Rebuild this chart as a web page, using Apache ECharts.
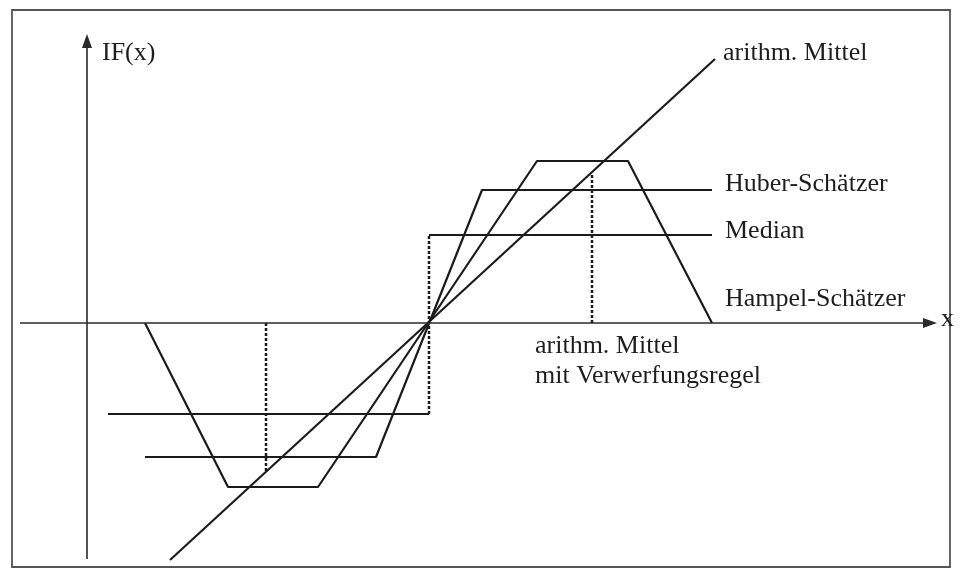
<!DOCTYPE html>
<html>
<head>
<meta charset="utf-8">
<script src="https://cdn.jsdelivr.net/npm/echarts@6/dist/echarts.min.js"></script>
<style>
html,body{margin:0;padding:0;background:#fff;}
#c{width:962px;height:569px;}
</style>
</head>
<body>
<div id="c"></div>
<script>
// Values (x and y in abstract units, origin at the crossing point)
const arithMittel   = [[-25.9, -23.7], [28.6, 26.4]];
const medianLow     = [[-32.1, -9.1], [0, -9.1]];
const medianJump    = [[0, -9.1], [0, 8.8]];
const medianHigh    = [[0, 8.8], [28.3, 8.8]];
const huber         = [[-28.4, -13.4], [-5.3, -13.4], [5.3, 13.3], [28.3, 13.3]];
const hampel        = [[-28.4, 0], [-20.1, -16.4], [-11.1, -16.4], [10.8, 16.2], [19.9, 16.2], [28.3, 0]];
const rejectRight   = [[16.3, 0], [16.3, 14.9]];
const rejectLeft    = [[-16.3, 0], [-16.3, -14.9]];
const xAxisSpan     = [[-40.9, 0], [50.1, 0]];
const yAxisSpan     = [[-34.2, -23.6], [-34.2, 28.2]];
const labels = {
  yName: 'IF(x)', xName: 'x',
  arith: 'arithm. Mittel', huber: 'Huber-Schätzer', median: 'Median', hampel: 'Hampel-Schätzer',
  reject1: 'arithm. Mittel', reject2: 'mit Verwerfungsregel'
};

const ink = '#1b1b1b';
const font = '"Liberation Serif", "DejaVu Serif", serif';
function solid(name, data) {
  return {name, type: 'line', data, symbol: 'none', silent: true,
    lineStyle: {color: ink, width: 2.2}, animation: false, z: 3};
}
function dotted(name, data) {
  return {name, type: 'line', data, symbol: 'none', silent: true,
    lineStyle: {color: ink, width: 2.5, type: [3, 2]}, animation: false, z: 2};
}
function axisArrow(name, seg) {
  return {name, type: 'line', data: [], silent: true, animation: false,
    markLine: {silent: true, animation: false, symbol: ['none', 'triangle'], symbolSize: [10, 14],
      label: {show: false},
      lineStyle: {color: '#2a2a2a', width: 1.6, type: 'solid'},
      data: [[{coord: seg[0]}, {coord: seg[1]}]]}};
}
function txt(text, x, y) {
  return {type: 'text', x, y, silent: true,
    style: {text, fill: '#1e1e1e', font: '26px ' + font, textAlign: 'left', textVerticalAlign: 'middle'}};
}

const chart = echarts.init(document.getElementById('c'), null, {renderer: 'canvas'});
chart.setOption({
  backgroundColor: '#fff',
  animation: false,
  grid: {left: 12, right: 12, top: 10, bottom: 2, show: true, borderColor: '#555', borderWidth: 1.8, backgroundColor: '#fff'},
  xAxis: {type: 'value', min: -41.7, max: 52.1, show: false},
  yAxis: {type: 'value', min: -24.4, max: 31.3, show: false},
  series: [
    axisArrow('x-Achse', xAxisSpan),
    axisArrow('IF-Achse', yAxisSpan),
    solid('arithm. Mittel', arithMittel),
    solid('Median unten', medianLow),
    dotted('Median Sprung', medianJump),
    solid('Median oben', medianHigh),
    solid('Huber-Schätzer', huber),
    solid('Hampel-Schätzer', hampel),
    dotted('Verwerfung rechts', rejectRight),
    dotted('Verwerfung links', rejectLeft)
  ],
  graphic: [
    txt(labels.yName, 102, 53),
    txt(labels.arith, 723, 53),
    txt(labels.huber, 725, 184),
    txt(labels.median, 725, 231),
    txt(labels.hampel, 725, 299),
    txt(labels.xName, 941, 319),
    txt(labels.reject1, 535, 346),
    txt(labels.reject2, 535, 376)
  ]
});
</script>
</body>
</html>
